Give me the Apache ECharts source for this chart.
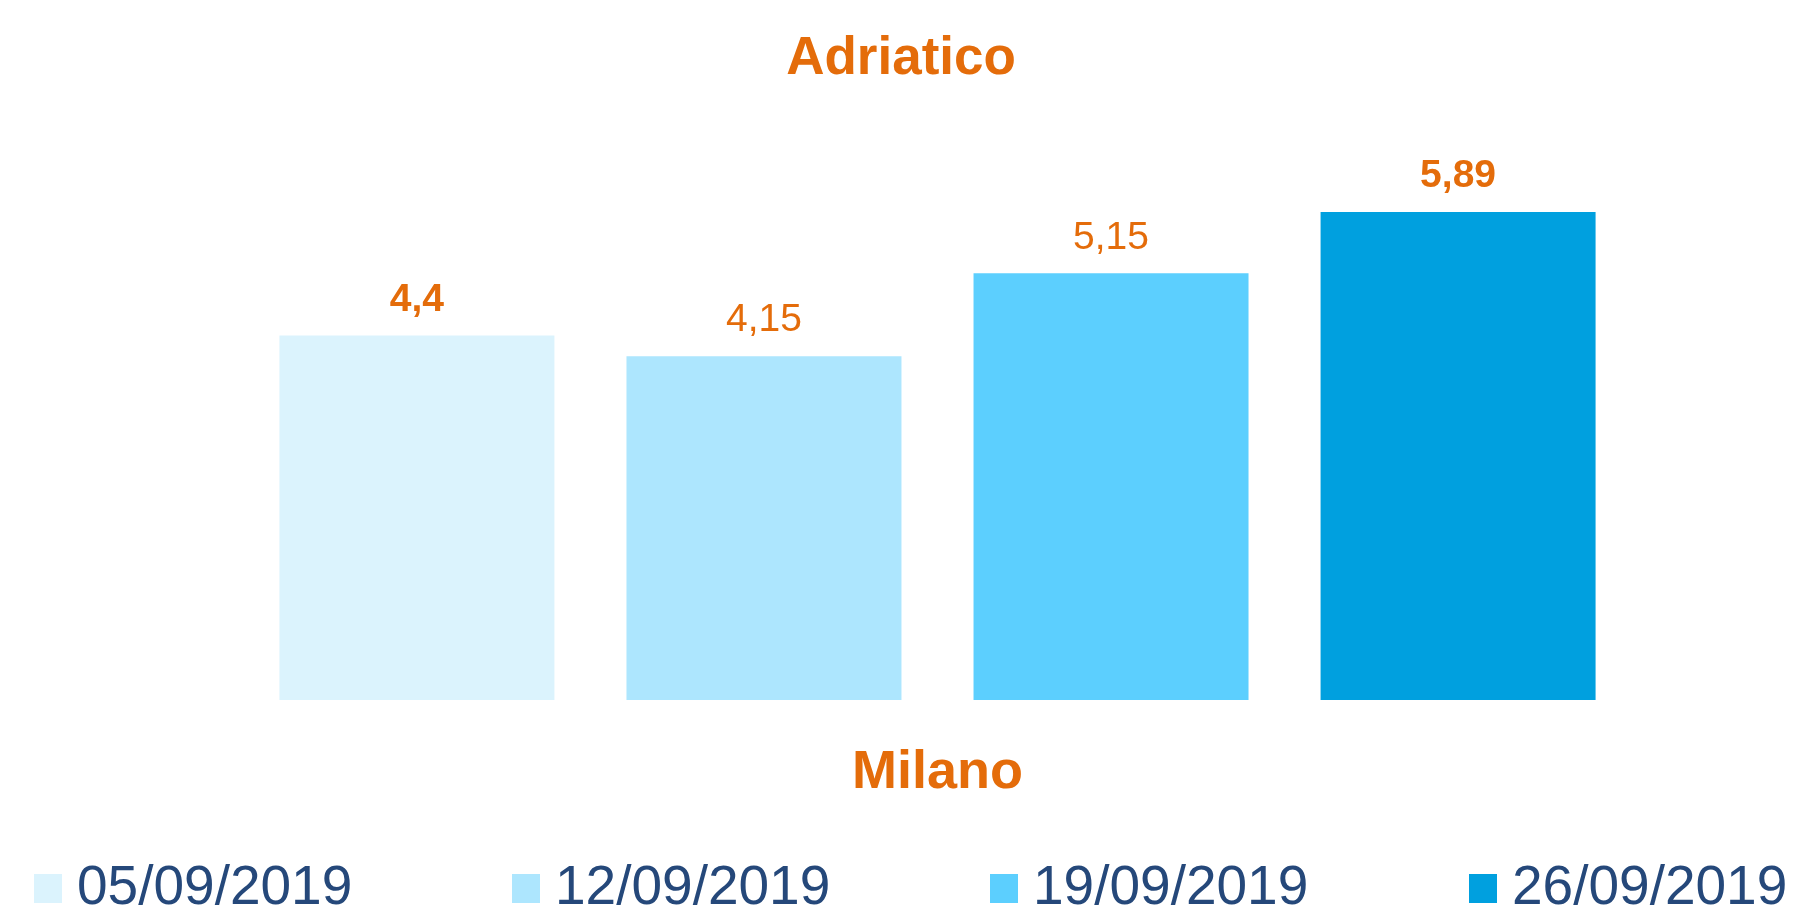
<!DOCTYPE html>
<html>
<head>
<meta charset="utf-8">
<script src="https://cdn.jsdelivr.net/npm/echarts@6/dist/echarts.min.js"></script>
<style>
  html, body { margin: 0; padding: 0; background: #ffffff; }
  #main { width: 1802px; height: 906px; }
</style>
</head>
<body>
<div id="main"></div>
<script>
// dati
var categories = ['Milano'];
var seriesNames = ['05/09/2019', '12/09/2019', '19/09/2019', '26/09/2019'];
var seriesValues = [4.4, 4.15, 5.15, 5.89];
var boldLabels = [true, false, false, true];
var barColors = ['#DBF3FD', '#ADE6FE', '#5CCFFE', '#00A0DF'];

var orange = '#E46C0A';
var navy = '#25487A';
var fontFamily = '"Liberation Sans", Arial, sans-serif';

// posizioni orizzontali delle voci di legenda
var legendLeft = [29, 507, 985, 1464];

var chartDom = document.getElementById('main');
var myChart = echarts.init(chartDom);

var series = [];
var legends = [];
for (var i = 0; i < seriesNames.length; i++) {
  series.push({
    name: seriesNames[i],
    type: 'bar',
    data: [seriesValues[i]],
    barWidth: 275,
    barGap: '26.2%',
    itemStyle: { color: barColors[i] },
    label: {
      show: true,
      position: 'top',
      distance: 16,
      color: orange,
      fontFamily: fontFamily,
      fontSize: 39,
      fontWeight: boldLabels[i] ? 'bold' : 'normal',
      formatter: function (p) {
        return String(p.value).replace('.', ',');
      }
    }
  });
  legends.push({
    data: [seriesNames[i]],
    left: legendLeft[i],
    top: 856,
    itemWidth: 28,
    itemHeight: 29,
    icon: 'rect',
    selectedMode: false,
    textStyle: {
      color: navy,
      fontFamily: fontFamily,
      fontSize: 55,
      padding: [0, 0, 0, 10]
    }
  });
}

var option = {
  backgroundColor: '#ffffff',
  animation: false,
  title: {
    text: 'Adriatico',
    left: 'center',
    top: 28,
    padding: [5, 0, 5, 10],
    textStyle: {
      color: orange,
      fontFamily: fontFamily,
      fontSize: 53,
      fontWeight: 'bold'
    }
  },
  legend: legends,
  grid: {
    left: 150,
    right: 77,
    top: 120,
    bottom: 206
  },
  xAxis: {
    type: 'category',
    data: categories,
    axisLine: { show: false },
    axisTick: { show: false },
    axisLabel: {
      margin: 46,
      color: orange,
      fontFamily: fontFamily,
      fontSize: 54,
      fontWeight: 'bold'
    }
  },
  yAxis: {
    type: 'value',
    min: 0,
    max: 7,
    show: false,
    splitLine: { show: false }
  },
  series: series
};

myChart.setOption(option);
</script>
</body>
</html>
